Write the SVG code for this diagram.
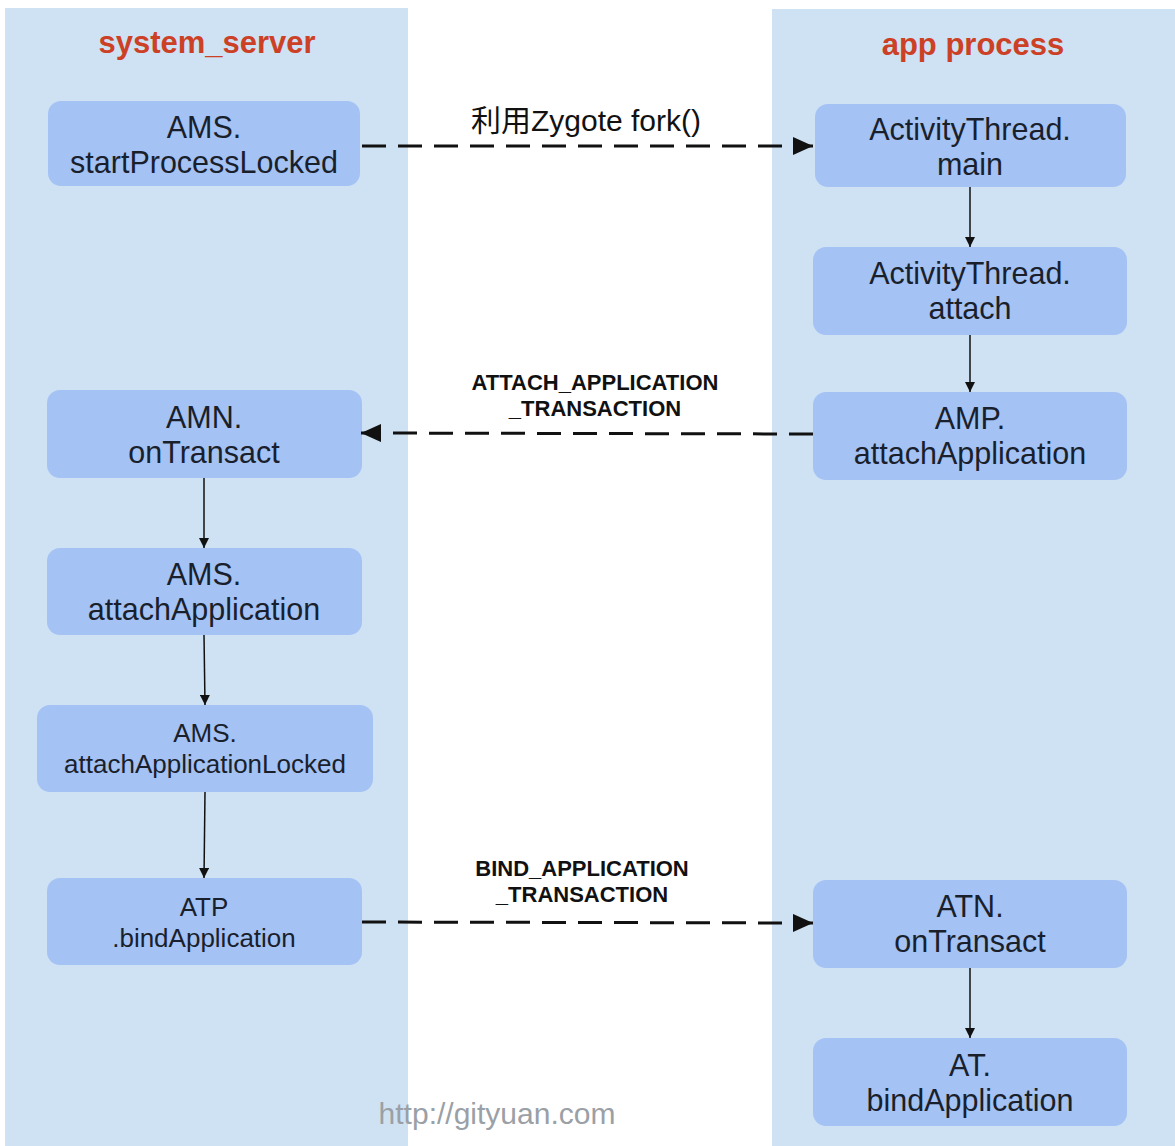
<svg xmlns="http://www.w3.org/2000/svg" width="1175" height="1146" viewBox="0 0 1175 1146">
  <defs>
    <marker id="bigHead" viewBox="0 0 20 18" refX="20" refY="9" markerWidth="20" markerHeight="18" markerUnits="userSpaceOnUse" orient="auto">
      <path d="M0,0 L20,9 L0,18 Z" fill="#111"/>
    </marker>
    <marker id="smallHead" viewBox="0 0 10 10" refX="10" refY="5" markerWidth="11" markerHeight="10" markerUnits="userSpaceOnUse" orient="auto">
      <path d="M0,0 L10,5 L0,10 Z" fill="#111"/>
    </marker>
  </defs>
  <style>
    .lane { fill: #cfe2f3; }
    .title { font-family: "Liberation Sans", Arial, sans-serif; font-weight: bold; font-size: 31px; fill: #cc4125; text-anchor: middle; }
    .box { fill: #a4c2f4; }
    .big { font-family: "Liberation Sans", Arial, sans-serif; font-size: 30.5px; fill: #1a1f2c; text-anchor: middle; }
    .small { font-family: "Liberation Sans", Arial, sans-serif; font-size: 26px; fill: #1a1f2c; text-anchor: middle; }
    .call { fill: none; stroke: #111; stroke-width: 3; stroke-dasharray: 24 12; marker-end: url(#bigHead); }
    .step { fill: none; stroke: #111; stroke-width: 1.5; marker-end: url(#smallHead); }
    .msg { font-family: "Liberation Sans", Arial, sans-serif; font-weight: bold; font-size: 22px; fill: #111; text-anchor: middle; }
    .fork { font-family: "Liberation Sans", Arial, "Noto Sans CJK SC", sans-serif; font-size: 30px; fill: #111; text-anchor: middle; }
    .mark { font-family: "Liberation Sans", Arial, sans-serif; font-size: 30px; fill: #9aa0a6; text-anchor: middle; }
  </style>

  <!-- swimlanes -->
  <g id="lane-system-server">
    <rect class="lane" x="5" y="8" width="403" height="1138"/>
    <text class="title" x="207" y="53">system_server</text>
  </g>
  <g id="lane-app-process">
    <rect class="lane" x="772" y="9" width="403" height="1137"/>
    <text class="title" x="973" y="55">app process</text>
  </g>

  <!-- system_server nodes -->
  <g id="ams-startProcessLocked">
    <rect class="box" x="48" y="101" width="312" height="85" rx="13"/>
    <text class="big" x="204" y="138">AMS.</text>
    <text class="big" x="204" y="173">startProcessLocked</text>
  </g>
  <g id="amn-onTransact">
    <rect class="box" x="47" y="390" width="315" height="88" rx="13"/>
    <text class="big" x="204" y="428">AMN.</text>
    <text class="big" x="204" y="463">onTransact</text>
  </g>
  <g id="ams-attachApplication">
    <rect class="box" x="47" y="548" width="315" height="87" rx="13"/>
    <text class="big" x="204" y="585">AMS.</text>
    <text class="big" x="204" y="620">attachApplication</text>
  </g>
  <g id="ams-attachApplicationLocked">
    <rect class="box" x="37" y="705" width="336" height="87" rx="13"/>
    <text class="small" x="205" y="742">AMS.</text>
    <text class="small" x="205" y="773">attachApplicationLocked</text>
  </g>
  <g id="atp-bindApplication">
    <rect class="box" x="47" y="878" width="315" height="87" rx="13"/>
    <text class="small" x="204" y="916">ATP</text>
    <text class="small" x="204" y="947">.bindApplication</text>
  </g>

  <!-- app process nodes -->
  <g id="activitythread-main">
    <rect class="box" x="815" y="104" width="311" height="83" rx="13"/>
    <text class="big" x="970" y="140">ActivityThread.</text>
    <text class="big" x="970" y="175">main</text>
  </g>
  <g id="activitythread-attach">
    <rect class="box" x="813" y="247" width="314" height="88" rx="13"/>
    <text class="big" x="970" y="284">ActivityThread.</text>
    <text class="big" x="970" y="319">attach</text>
  </g>
  <g id="amp-attachApplication">
    <rect class="box" x="813" y="392" width="314" height="88" rx="13"/>
    <text class="big" x="970" y="429">AMP.</text>
    <text class="big" x="970" y="464">attachApplication</text>
  </g>
  <g id="atn-onTransact">
    <rect class="box" x="813" y="880" width="314" height="88" rx="13"/>
    <text class="big" x="970" y="917">ATN.</text>
    <text class="big" x="970" y="952">onTransact</text>
  </g>
  <g id="at-bindApplication">
    <rect class="box" x="813" y="1038" width="314" height="88" rx="13"/>
    <text class="big" x="970" y="1076">AT.</text>
    <text class="big" x="970" y="1111">bindApplication</text>
  </g>

  <!-- connectors -->
  <g id="connectors">
    <line class="call" x1="362" y1="146" x2="813" y2="146"/>
    <text class="fork" x="586" y="131">利用Zygote fork()</text>

    <line class="call" x1="813" y1="434" x2="361" y2="433"/>
    <text class="msg" x="595" y="390">ATTACH_APPLICATION</text>
    <text class="msg" x="595" y="416">_TRANSACTION</text>

    <line class="call" x1="362" y1="922" x2="813" y2="923"/>
    <text class="msg" x="582" y="876">BIND_APPLICATION</text>
    <text class="msg" x="582" y="902">_TRANSACTION</text>

    <line class="step" x1="970" y1="187" x2="970" y2="247"/>
    <line class="step" x1="970" y1="335" x2="970" y2="392"/>
    <line class="step" x1="970" y1="968" x2="970" y2="1038"/>
    <line class="step" x1="204" y1="478" x2="204" y2="548"/>
    <line class="step" x1="204" y1="635" x2="205" y2="705"/>
    <line class="step" x1="205" y1="792" x2="204" y2="878"/>
  </g>

  <text class="mark" x="497" y="1124">http://gityuan.com</text>
</svg>
